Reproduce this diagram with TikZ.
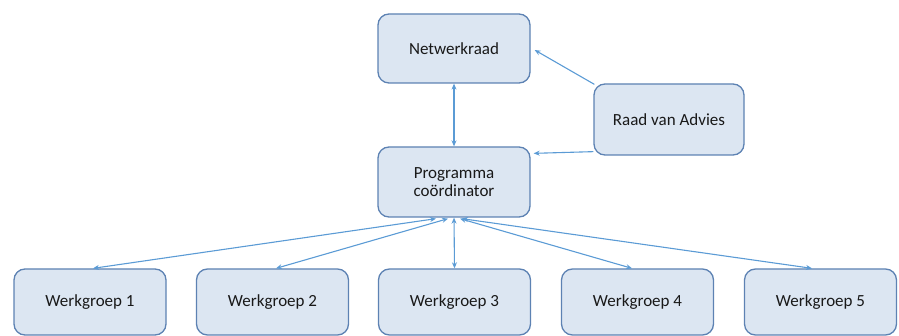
\documentclass[tikz,border=0pt]{standalone}
\usepackage{fontspec}
\setmainfont{Carlito}
\usetikzlibrary{arrows.meta,calc}
\definecolor{boxfill}{HTML}{DCE6F2}
\definecolor{boxline}{HTML}{5D82B3}
\definecolor{linkcol}{HTML}{5B9BD5}
\begin{document}
\begin{tikzpicture}[x=1pt,y=-1pt,
  orgbox/.style={draw=boxline, fill=boxfill, line width=1.3pt, rounded corners=11pt,
    minimum width=152pt, minimum height=69pt, align=center, inner sep=0pt,
    font=\fontsize{17}{19}\selectfont, text=black!90},
  link/.style={draw=linkcol, line width=1.1pt, -{Stealth[length=6pt,width=5pt]}},
  dlink/.style={link, {Stealth[length=6pt,width=5pt]}-{Stealth[length=6pt,width=5pt]}}]
\useasboundingbox (0,0) rectangle (899,336);

% top levels
\node[orgbox] (netw) at (454,48.5) {Netwerkraad};
\node[orgbox, minimum width=150pt, minimum height=71pt] (raad) at (669,119.5) {Raad van Advies};
\node[orgbox, minimum height=70pt] (prog) at (454,182) {Programma\\[-1pt]coördinator};

% working groups
\foreach \i/\x in {1/90,2/272.5,3/454.5,4/637.5,5/820.5}
  \node[orgbox, minimum width=152pt, minimum height=66pt] (wg\i) at (\x,302) {Werkgroep \i};

% links
\draw[dlink] (netw) -- (prog);
\draw[link] ($(raad.north west)+(1,1)$) -- ($(netw.east)+(4,1.5)$);
\draw[link] ($(raad.south west)+(0,-4)$) -- ($(prog.north east)+(3,7)$);

\coordinate (p1) at ($(prog.south)+(-18,1)$);
\coordinate (p2) at ($(prog.south)+(-6,1)$);
\coordinate (p4) at ($(prog.south)+(6,1)$);
\coordinate (p5) at ($(prog.south)+(8,1)$);
\draw[dlink] (p1) -- ($(wg1.north)+(3,0)$);
\draw[dlink] (p2) -- ($(wg2.north)+(3.5,0)$);
\draw[dlink] (prog.south) -- (wg3.north);
\draw[dlink] (p4) -- ($(wg4.north)+(-5.5,0)$);
\draw[dlink] (p5) -- ($(wg5.north)+(-8.5,0)$);
\end{tikzpicture}
\end{document}
